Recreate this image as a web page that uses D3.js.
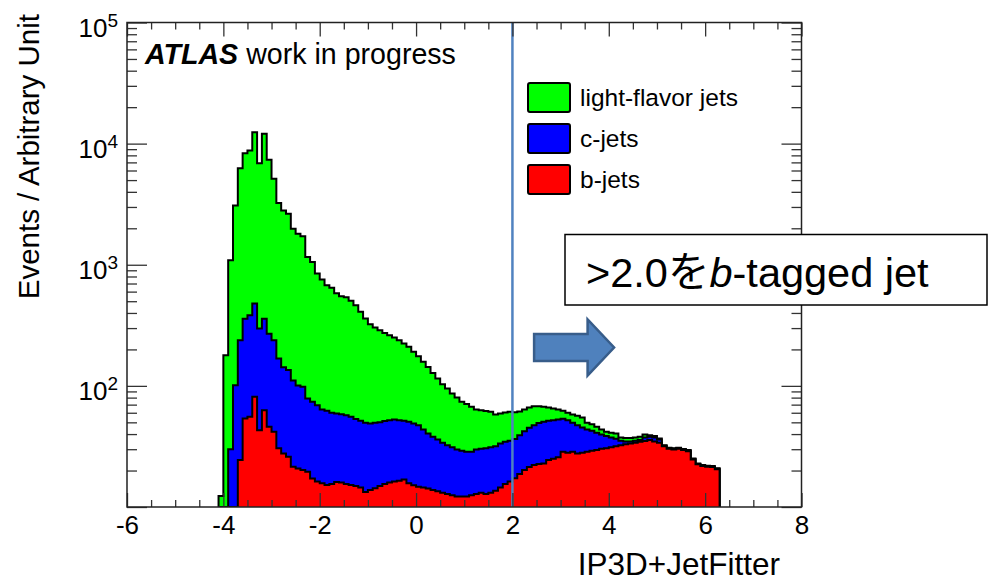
<!DOCTYPE html>
<html>
<head>
<meta charset="utf-8">
<script src="https://cdn.jsdelivr.net/npm/d3@7"></script>
<style>
  body { margin: 0; background: #fff; }
  svg { display: block; }
  text { font-family: "Liberation Sans", Arial, "Noto Sans CJK JP", sans-serif; fill: #000; }
</style>
</head>
<body>
<svg id="chart" width="988" height="582"></svg>
<script>
// Histogram binning of the discriminant (bin lower edges, width 0.1)
const binWidth = 0.1;
const binLow = d3.range(104).map(i => +(-4.1 + i * binWidth).toFixed(1));

// Events per bin for each jet flavour (stacked: b at the bottom, then c, then light)
const bJets = [
  0, 0, 2, 5, 24.4, 53.9, 55.5, 81.2, 43.1, 63.0,
  45.9, 41.8, 30.5, 27.7, 26.0, 21.5, 20.8, 20.2, 19.5, 17.2,
  16.2, 15.7, 15.2, 15.5, 16.1, 15.9, 15.5, 15.2, 14.9, 14.5,
  13.3, 13.8, 14.3, 14.9, 15.5, 15.9, 16.2, 16.5, 16.9, 15.7,
  15.1, 14.7, 14.5, 14.2, 13.8, 13.5, 13.1, 12.8, 12.5, 12.2,
  12.2, 12.2, 12.5, 12.8, 13.1, 12.8, 13.1, 13.6, 14.5, 15.5,
  16.2, 17.3, 18.7, 20.2, 21.4, 22.2, 22.6, 22.9, 24.4, 25.0,
  25.7, 28.6, 28.0, 28.6, 27.7, 28.0, 28.6, 29.1, 29.5, 30.2,
  30.5, 31.1, 31.8, 32.3, 32.9, 33.5, 33.9, 34.5, 35.0, 35.7,
  34.8, 33.9, 31.8, 30.2, 29.9, 30.2, 29.5, 28.9, 24.7, 22.5,
  21.8, 21.5, 21.4, 20.5
];
const cJets = [
  0, 3, 28, 96, 214, 305, 328, 397, 254, 296,
  224, 196, 137.5, 115, 109, 89.5, 80, 78, 59, 56.6,
  53, 48, 47, 44.6, 43, 42.5, 41.8, 40.3, 38.3, 37,
  36.2, 35.2, 35.2, 35.3, 35.7, 36.2, 36.6, 35.6, 34.6, 34.8,
  33.9, 32.5, 29.2, 26.3, 24.2, 22.6, 20.8, 19.6, 18.6, 17.7,
  16.9, 16.4, 16.1, 17.1, 17.1, 17.7, 18.0, 18.2, 19.0, 19.0,
  19.1, 19.1, 20.5, 22.1, 23.8, 25.2, 26.7, 27.6, 27.1, 27.1,
  27.1, 24.9, 24.1, 20.9, 19.7, 17.4, 15.1, 13.5, 11.5, 9.5,
  8.0, 6.4, 4.8, 2.9, 1.9, 1.3, 1.3, 1.2, 2.5, 2.3,
  2.7, 2.2, 0.3, 0.3, 0.3, 0.3, 0.3, 0.3, 0.25, 0.2,
  0.2, 0.2, 0.2, 0.2
];
const lightJets = [
  12.3, 176, 1057, 2987, 6032, 7976, 8390, 11939, 6596, 11686,
  7082, 4888, 3059, 2666, 2504, 1874, 1704, 1617, 1078, 979,
  776, 690, 615, 585, 522, 491, 481, 449, 410, 357,
  310, 274, 254, 238, 222, 210, 198, 186, 172.5, 159.5,
  142, 128.8, 114.3, 102.5, 90, 78.9, 69.1, 62.8, 55.5, 50.3,
  44.7, 42.1, 38.5, 34.0, 32.8, 31.4, 30.0, 26.3, 25.7, 25.9,
  25.8, 24.3, 22.1, 21.6, 21.2, 20.6, 18.7, 16.6, 14.9, 13.0,
  11.1, 8.7, 7.8, 8.6, 9.2, 9.5, 5.8, 5.7, 4.9, 4.0,
  3.3, 3.5, 3.9, 2.3, 2.3, 2.3, 2.3, 2.3, 2.2, 1.2,
  1.0, 0.7, 0.3, 0.3, 0.3, 0.3, 0.3, 0.3, 0.25, 0.2,
  0.2, 0.2, 0.2, 0.2
];

// Axis ticks and labels
const xMajorTicks = [-6, -4, -2, 0, 2, 4, 6, 8];
const xMinorTicks = d3.range(-6, 8.01, 0.5).filter(v => !xMajorTicks.includes(v));
const yDecades = [10, 100, 1000, 10000, 100000];
const yLabelExponents = [2, 3, 4, 5];
const yMinorTicks = [10, 100, 1000, 10000].flatMap(d => d3.range(2, 10).map(k => k * d));

const legendEntries = [
  { label: "light-flavor jets", color: "#00ff00" },
  { label: "c-jets", color: "#0000ff" },
  { label: "b-jets", color: "#ff0000" }
];
const cutValue = 2.0;

const svg = d3.select("#chart");
const plot = { left: 127, right: 801.5, top: 22.5, bottom: 507 };

const x = d3.scaleLinear().domain([-6, 8]).range([plot.left, plot.right]);
const y = d3.scaleLog().domain([10, 1e5]).range([plot.bottom, plot.top]).clamp(true);

svg.append("rect").attr("width", 988).attr("height", 582).attr("fill", "#fff");

svg.append("clipPath").attr("id", "plotClip")
  .append("rect")
  .attr("x", plot.left).attr("y", plot.top)
  .attr("width", plot.right - plot.left).attr("height", plot.bottom - plot.top);

// cumulative sums for the stacked histogram
const sumB = bJets.slice();
const sumBC = bJets.map((v, i) => v + cJets[i]);
const sumAll = sumBC.map((v, i) => v + lightJets[i]);

const layers = [
  { values: sumAll, color: "#00ff00" },
  { values: sumBC, color: "#0000ff" },
  { values: sumB, color: "#ff0000" }
];

function stepPath(vals) {
  const base = y(10);
  const pts = [[x(binLow[0]), base]];
  vals.forEach((v, i) => {
    const yy = y(Math.max(v, 1));
    pts.push([x(binLow[i]), yy], [x(binLow[i] + binWidth), yy]);
  });
  pts.push([x(binLow[binLow.length - 1] + binWidth), base]);
  return d3.line()(pts);
}

const hist = svg.append("g").attr("clip-path", "url(#plotClip)");
hist.selectAll("path.layer")
  .data(layers)
  .join("path")
  .attr("class", "layer")
  .attr("d", d => stepPath(d.values))
  .attr("fill", d => d.color)
  .attr("stroke", "#000")
  .attr("stroke-width", 2)
  .attr("stroke-linejoin", "miter");

// cut line
svg.append("line")
  .attr("x1", x(cutValue)).attr("x2", x(cutValue))
  .attr("y1", plot.top).attr("y2", plot.bottom)
  .attr("stroke", "#5082c0").attr("stroke-width", 2.5);

// axes (ticks drawn inward on all four sides)
const tickColor = "#333";
function styleAxis(g) {
  g.select(".domain").remove();
  g.selectAll(".tick line").attr("stroke", tickColor).attr("stroke-width", 1.3);
}

svg.append("g").attr("transform", `translate(0,${plot.bottom})`)
  .call(d3.axisBottom(x).tickValues(xMinorTicks).tickSize(-7).tickFormat(""))
  .call(styleAxis);
const xAxisMajor = svg.append("g").attr("transform", `translate(0,${plot.bottom})`)
  .call(d3.axisBottom(x).tickValues(xMajorTicks).tickSize(-14).tickPadding(9).tickFormat(d => String(d)))
  .call(styleAxis);
xAxisMajor.selectAll(".tick text")
  .attr("font-size", 26).attr("font-family", null).attr("fill", "#000");

svg.append("g").attr("transform", `translate(0,${plot.top})`)
  .call(d3.axisTop(x).tickValues(xMinorTicks).tickSize(-7).tickFormat(""))
  .call(styleAxis);
svg.append("g").attr("transform", `translate(0,${plot.top})`)
  .call(d3.axisTop(x).tickValues(xMajorTicks).tickSize(-14).tickFormat(""))
  .call(styleAxis);

svg.append("g").attr("transform", `translate(${plot.left},0)`)
  .call(d3.axisLeft(y).tickValues(yMinorTicks).tickSize(-10).tickFormat(""))
  .call(styleAxis);
svg.append("g").attr("transform", `translate(${plot.left},0)`)
  .call(d3.axisLeft(y).tickValues(yDecades).tickSize(-20).tickFormat(""))
  .call(styleAxis);
svg.append("g").attr("transform", `translate(${plot.right},0)`)
  .call(d3.axisRight(y).tickValues(yMinorTicks).tickSize(-10).tickFormat(""))
  .call(styleAxis);
svg.append("g").attr("transform", `translate(${plot.right},0)`)
  .call(d3.axisRight(y).tickValues(yDecades).tickSize(-20).tickFormat(""))
  .call(styleAxis);

// y labels as powers of ten
const yLab = svg.append("g");
yLabelExponents.forEach(e => {
  const t = yLab.append("text")
    .attr("x", 118).attr("y", y(Math.pow(10, e)) + 14)
    .attr("text-anchor", "end").attr("font-size", 26);
  t.append("tspan").text("10");
  t.append("tspan").attr("dy", -10).attr("font-size", 19).text(String(e));
});

// frame
svg.append("rect")
  .attr("x", plot.left).attr("y", plot.top)
  .attr("width", plot.right - plot.left).attr("height", plot.bottom - plot.top)
  .attr("fill", "none").attr("stroke", "#222").attr("stroke-width", 1.5);

// axis titles
svg.append("text")
  .attr("x", 780).attr("y", 575)
  .attr("text-anchor", "end").attr("font-size", 31.5)
  .text("IP3D+JetFitter");
svg.append("text")
  .attr("transform", "translate(39,14) rotate(-90)")
  .attr("text-anchor", "end").attr("font-size", 29.5)
  .text("Events / Arbitrary Unit");

// experiment label
const atlas = svg.append("text").attr("x", 145).attr("y", 64).attr("font-size", 28.6);
atlas.append("tspan").attr("font-weight", "bold").attr("font-style", "italic").text("ATLAS");
atlas.append("tspan").text(" work in progress");

// legend
const legend = svg.append("g");
legendEntries.forEach((d, i) => {
  const cy = 97.5 + i * 41;
  legend.append("rect")
    .attr("x", 528).attr("y", cy - 14.5)
    .attr("width", 42).attr("height", 29).attr("rx", 2)
    .attr("fill", d.color).attr("stroke", "#000").attr("stroke-width", 2);
  legend.append("text")
    .attr("x", 580).attr("y", cy + 8)
    .attr("font-size", 24.5).attr("fill", "#111")
    .text(d.label);
});

// arrow pointing to the tagged region
const ay = 347.5, ax0 = x(2.45), ax1 = x(3.56), axTip = x(4.11);
svg.append("path")
  .attr("d", d3.line()([
    [ax0, ay - 13.5], [ax1, ay - 13.5], [ax1, ay - 28], [axTip, ay],
    [ax1, ay + 28], [ax1, ay + 13.5], [ax0, ay + 13.5]
  ]) + "Z")
  .attr("fill", "#4f81bd").attr("stroke", "#385d8a").attr("stroke-width", 2.5)
  .attr("stroke-linejoin", "miter");

// annotation box
svg.append("rect")
  .attr("x", 565).attr("y", 234.5).attr("width", 422).attr("height", 70.5)
  .attr("fill", "#fff").attr("stroke", "#000").attr("stroke-width", 1.5);
const note = svg.append("text").attr("x", 586).attr("y", 287).attr("font-size", 41.5);
note.append("tspan").text(">2.0を");
note.append("tspan").attr("font-style", "italic").text("b");
note.append("tspan").text("-tagged jet");
</script>
</body>
</html>
